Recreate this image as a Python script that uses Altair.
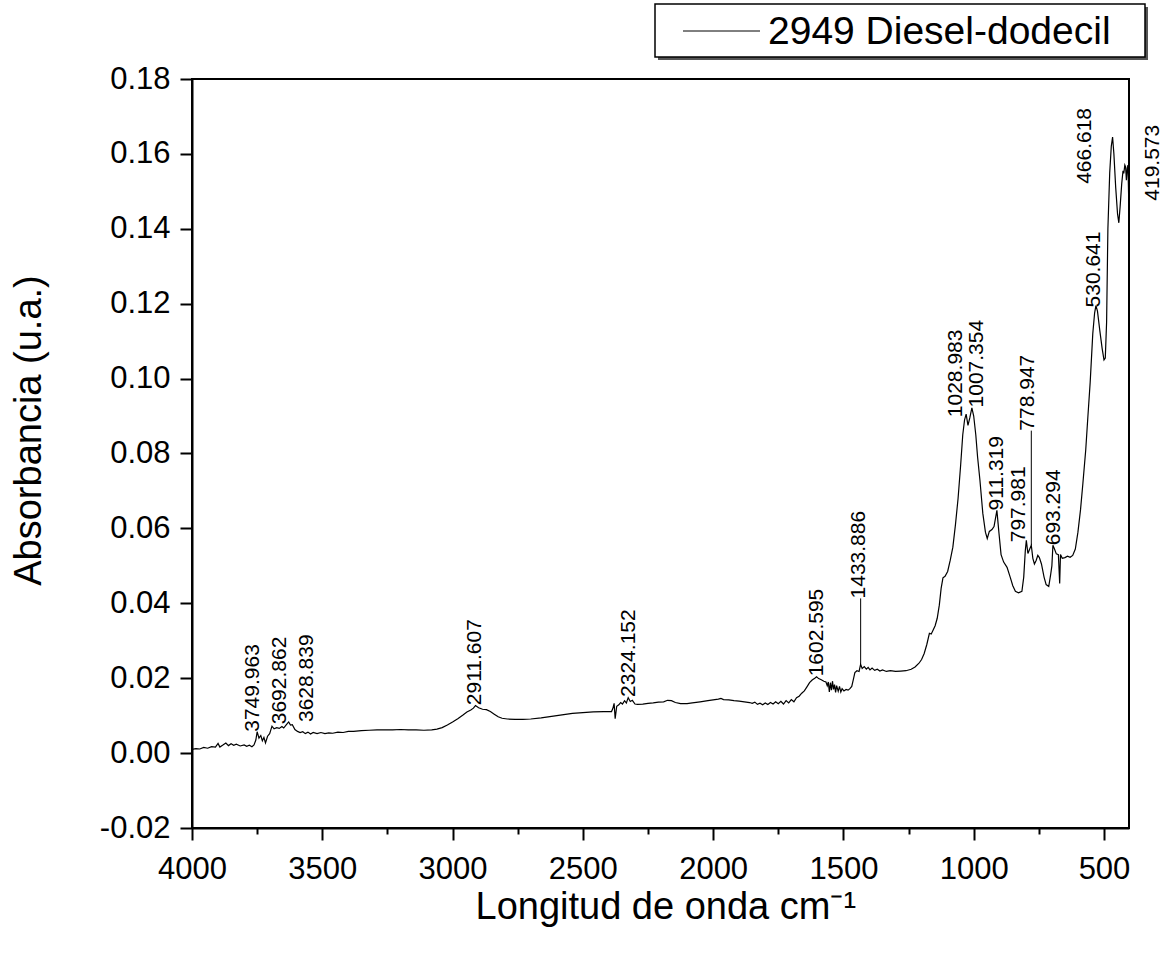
import altair as alt
import pandas as pd

# ---------------- data ----------------
wavenumber = [
    4000, 3985, 3970, 3955, 3940, 3925, 3910, 3900, 3893, 3880, 3870, 3860, 3850, 3840,
    3830, 3815, 3800, 3790, 3780, 3770, 3762, 3755, 3750, 3743, 3736, 3730, 3724, 3718,
    3710, 3702, 3693, 3685, 3675, 3665, 3655, 3648, 3640, 3633, 3629, 3622, 3615, 3605,
    3595, 3585, 3575, 3565, 3555, 3545, 3535, 3520, 3505, 3490, 3475, 3460, 3440, 3420,
    3400, 3380, 3350, 3320, 3290, 3260, 3230, 3200, 3170, 3140, 3110, 3080, 3060, 3040,
    3020, 3000, 2980, 2960, 2945, 2930, 2920, 2912, 2900, 2885, 2870, 2855, 2840, 2825,
    2810, 2790, 2760, 2730, 2700, 2660, 2620, 2580, 2540, 2500, 2460, 2420, 2390, 2385,
    2380, 2376, 2370, 2362, 2355, 2348, 2340, 2333, 2326, 2318, 2310, 2300, 2290, 2270,
    2250, 2230, 2210, 2190, 2175, 2160, 2145, 2125, 2100, 2080, 2050, 2020, 2000, 1980,
    1970, 1960, 1940, 1920, 1900, 1880, 1860, 1850, 1840, 1830, 1820, 1810, 1800, 1790,
    1780, 1770, 1760, 1750, 1740, 1730, 1720, 1710, 1700, 1690, 1680, 1670, 1660, 1650,
    1640, 1630, 1620, 1610, 1603, 1595, 1585, 1575, 1567, 1562, 1558, 1554, 1550, 1546,
    1542, 1538, 1534, 1530, 1526, 1520, 1515, 1510, 1505, 1498, 1490, 1482, 1475, 1468,
    1462, 1456, 1448, 1440, 1434, 1428, 1420, 1412, 1405, 1398, 1390, 1380, 1370, 1360,
    1350, 1335, 1320, 1300, 1280, 1260, 1240, 1225, 1210, 1200, 1190, 1180, 1170, 1163,
    1156, 1148, 1140, 1132, 1125, 1118, 1110, 1100, 1090, 1080, 1070, 1060, 1050, 1042,
    1035, 1029, 1022, 1015, 1007, 1000, 992, 985, 976, 965, 955, 948, 940, 930,
    922, 911, 903, 895, 885, 872, 860, 850, 840, 828, 815, 808, 802, 798,
    792, 785, 779, 773, 767, 760, 754, 748, 740, 730, 722, 712, 705, 700,
    696, 690, 683, 675, 670, 667, 660, 650, 640, 630, 620, 610, 600, 590,
    581, 570, 562, 553, 543, 536, 531, 525, 516, 507, 500, 495, 490, 485,
    478, 472, 467, 462, 455, 448, 443, 438, 432, 427, 424, 420, 417, 414,
    411, 408, 405,
]
absorbance = [
    0.0010, 0.0012, 0.0011, 0.0015, 0.0013, 0.0017, 0.0016, 0.0026, 0.0016, 0.0022, 0.0027, 0.0020, 0.0025, 0.0021,
    0.0024, 0.0019, 0.0022, 0.0018, 0.0021, 0.0017, 0.0022, 0.0035, 0.0057, 0.0040, 0.0047, 0.0033, 0.0042, 0.0027,
    0.0045, 0.0052, 0.0072, 0.0065, 0.0068, 0.0066, 0.0071, 0.0067, 0.0074, 0.0080, 0.0083, 0.0075, 0.0076, 0.0063,
    0.0058, 0.0055, 0.0057, 0.0052, 0.0056, 0.0051, 0.0055, 0.0052, 0.0055, 0.0052, 0.0054, 0.0053, 0.0056, 0.0055,
    0.0058, 0.0058, 0.0060, 0.0061, 0.0062, 0.0062, 0.0062, 0.0063, 0.0062, 0.0062, 0.0061, 0.0062, 0.0064, 0.0068,
    0.0075, 0.0083, 0.0092, 0.0102, 0.0110, 0.0115, 0.0120, 0.0127, 0.0121, 0.0117, 0.0116, 0.0111, 0.0104, 0.0097,
    0.0093, 0.0091, 0.0090, 0.0090, 0.0091, 0.0094, 0.0098, 0.0102, 0.0106, 0.0108, 0.0110, 0.0111, 0.0111, 0.0119,
    0.0133, 0.0092, 0.0125, 0.0129, 0.0135, 0.0131, 0.0140, 0.0134, 0.0148, 0.0138, 0.0141, 0.0131, 0.0130, 0.0131,
    0.0133, 0.0134, 0.0136, 0.0137, 0.0141, 0.0140, 0.0135, 0.0132, 0.0132, 0.0134, 0.0137, 0.0140, 0.0142, 0.0144,
    0.0146, 0.0143, 0.0142, 0.0140, 0.0139, 0.0137, 0.0135, 0.0133, 0.0136, 0.0130, 0.0133, 0.0129, 0.0134, 0.0130,
    0.0135, 0.0131, 0.0137, 0.0132, 0.0138, 0.0131, 0.0140, 0.0134, 0.0143, 0.0137, 0.0148, 0.0152, 0.0160, 0.0166,
    0.0177, 0.0188, 0.0195, 0.0200, 0.0204, 0.0199, 0.0196, 0.0192, 0.0190, 0.0180, 0.0190, 0.0163, 0.0188, 0.0168,
    0.0192, 0.0170, 0.0183, 0.0162, 0.0180, 0.0165, 0.0178, 0.0163, 0.0172, 0.0166, 0.0170, 0.0168, 0.0172, 0.0178,
    0.0196, 0.0215, 0.0220, 0.0218, 0.0237, 0.0226, 0.0231, 0.0224, 0.0229, 0.0222, 0.0227, 0.0221, 0.0224, 0.0219,
    0.0222, 0.0218, 0.0220, 0.0218, 0.0219, 0.0220, 0.0224, 0.0230, 0.0240, 0.0250, 0.0266, 0.0290, 0.0320, 0.0318,
    0.0328, 0.0340, 0.0360, 0.0395, 0.0440, 0.0468, 0.0472, 0.0485, 0.0515, 0.0550, 0.0610, 0.0680, 0.0770, 0.0850,
    0.0890, 0.0905, 0.0875, 0.0895, 0.0922, 0.0900, 0.0850, 0.0790, 0.0728, 0.0640, 0.0590, 0.0573, 0.0592, 0.0597,
    0.0605, 0.0648, 0.0587, 0.0530, 0.0510, 0.0496, 0.0470, 0.0447, 0.0432, 0.0428, 0.0432, 0.0470, 0.0540, 0.0568,
    0.0533, 0.0545, 0.0555, 0.0520, 0.0505, 0.0515, 0.0528, 0.0522, 0.0505, 0.0470, 0.0450, 0.0445, 0.0475, 0.0500,
    0.0555, 0.0545, 0.0532, 0.0530, 0.0453, 0.0530, 0.0520, 0.0522, 0.0526, 0.0523, 0.0528, 0.0545, 0.0590, 0.0650,
    0.0720, 0.0810, 0.0896, 0.0990, 0.1120, 0.1175, 0.1195, 0.1180, 0.1128, 0.1080, 0.1050, 0.1055, 0.1150, 0.1400,
    0.1550, 0.1620, 0.1645, 0.1600, 0.1510, 0.1440, 0.1416, 0.1460, 0.1520, 0.1555, 0.1548, 0.1570, 0.1565, 0.1530,
    0.1560, 0.1570, 0.1475,
]

peak_labels = ["3749.963", "3692.862", "3628.839", "2911.607", "2324.152", "1602.595",
               "1433.886", "1028.983", "1007.354", "911.319", "797.981", "778.947",
               "693.294", "530.641", "466.618", "419.573"]
peak_wn = [3749.963, 3692.862, 3628.839, 2911.607, 2324.152, 1602.595,
           1433.886, 1028.983, 1007.354, 911.319, 797.981, 778.947,
           693.294, 530.641, 466.618, 419.573]
peak_abs = [0.0057, 0.0072, 0.0083, 0.0127, 0.0148, 0.0204,
            0.0237, 0.0905, 0.0922, 0.0648, 0.0568, 0.0555,
            0.0555, 0.1195, 0.1645, 0.1570]
label_wn = [3767, 3662, 3560, 2912, 2322, 1603,
            1439, 1068, 989, 910, 825, 791,
            692, 539, 573, 311]
label_abs = [0.0057, 0.0077, 0.0083, 0.0128, 0.0150, 0.0205,
             0.0413, 0.0897, 0.0923, 0.0648, 0.0563, 0.0861,
             0.0555, 0.1190, 0.1520, 0.1475]
has_leader = [False, False, False, False, False, False,
              True, False, False, False, False, True,
              False, False, False, False]

series_name = "2949 Diesel-dodecil"
x_title = "Longitud de onda cm\u207b\u00b9"
y_title = "Absorbancia (u.a.)"
x_tick_values = [4000, 3750, 3500, 3250, 3000, 2750, 2500, 2250, 2000, 1750, 1500, 1250, 1000, 750, 500]
y_tick_values = [-0.02, -0.01, 0.0, 0.01, 0.02, 0.03, 0.04, 0.05, 0.06, 0.07, 0.08, 0.09,
                 0.10, 0.11, 0.12, 0.13, 0.14, 0.15, 0.16, 0.17, 0.18]

# ---------------- tables ----------------
spec = pd.DataFrame({"wn": wavenumber, "abs": absorbance})
peaks = pd.DataFrame({"label": peak_labels, "wn": peak_wn, "pabs": peak_abs,
                      "lwn": label_wn, "labs": label_abs, "leader": has_leader})
leaders = peaks[peaks["leader"]]
legend_df = pd.DataFrame({"name": [series_name]})

FONT = "Liberation Sans"
xscale = alt.Scale(domain=[4000, 404], nice=False, zero=False)
yscale = alt.Scale(domain=[-0.02, 0.18], nice=False, zero=False)

x_axis = alt.Axis(
    values=x_tick_values,
    title=x_title,
    grid=False,
    tickSize={"condition": {"test": "datum.value % 500 === 0", "value": 12}, "value": 6},
    labelExpr="datum.value % 500 === 0 ? datum.label : ''",
    format="d",
    labelFlush=False,
    labelOverlap=False,
    labelPadding=14,
    titleAlign="left",
    titleAnchor="start",
    titleX=283,
    titleY=90,
    titleBaseline="alphabetic",
)
y_axis = alt.Axis(
    values=y_tick_values,
    title=y_title,
    grid=False,
    tickSize={"condition": {"test": "round(datum.value*100) % 2 === 0", "value": 12}, "value": 6},
    labelExpr="round(datum.value*100) % 2 !== 0 ? '' : (datum.value < 0 ? '-' + format(-datum.value, '.2f') : format(datum.value, '.2f'))",
    labelOverlap=False,
    labelFlush=False,
    labelPadding=10,
    titleAngle=270,
    titleAlign="center",
    titleX=-152,
    titleY=351,
    titleBaseline="alphabetic",
)

line = alt.Chart(spec).mark_line(color="black", strokeWidth=1.2).encode(
    x=alt.X("wn:Q", scale=xscale, axis=x_axis),
    y=alt.Y("abs:Q", scale=yscale, axis=y_axis),
)

leader_rules = alt.Chart(leaders).mark_rule(color="black", strokeWidth=1).encode(
    x=alt.X("wn:Q", scale=xscale),
    y=alt.Y("pabs:Q", scale=yscale),
    y2="labs:Q",
)

labels = alt.Chart(peaks).mark_text(
    angle=270, align="left", baseline="middle", fontSize=21, font=FONT, color="black"
).encode(
    x=alt.X("lwn:Q", scale=xscale),
    y=alt.Y("labs:Q", scale=yscale),
    text="label:N",
)

# legend box drawn above the plot, as in the reference
legend_shadow = alt.Chart(legend_df).mark_rect(color="#555555").encode(
    x=alt.value(466), x2=alt.value(956), y=alt.value(-72), y2=alt.value(-19)
)
legend_box = alt.Chart(legend_df).mark_rect(fill="white", stroke="black", strokeWidth=1.5).encode(
    x=alt.value(463), x2=alt.value(953), y=alt.value(-75), y2=alt.value(-22)
)
legend_line = alt.Chart(legend_df).mark_rule(color="black", strokeWidth=1).encode(
    x=alt.value(491), x2=alt.value(568), y=alt.value(-48)
)
legend_text = alt.Chart(legend_df).mark_text(
    align="left", baseline="middle", fontSize=39, font=FONT, color="black"
).encode(x=alt.value(576), y=alt.value(-47), text="name:N")

chart = alt.layer(
    line, leader_rules, labels, legend_shadow, legend_box, legend_line, legend_text
).properties(
    width=937,
    height=749,
    autosize=alt.AutoSizeParams(type="none"),
    padding={"left": 192, "top": 79, "right": 38, "bottom": 125},
    background="white",
).configure_view(
    stroke="black", strokeWidth=2
).configure_axis(
    domainColor="black",
    domainWidth=2,
    tickColor="black",
    tickWidth=2,
    labelFont=FONT,
    labelFontSize=31,
    labelColor="black",
    titleFont=FONT,
    titleFontSize=38,
    titleFontWeight="normal",
    titleColor="black",
)

chart.save("out.html", embed_options={"renderer": "svg", "actions": False})
